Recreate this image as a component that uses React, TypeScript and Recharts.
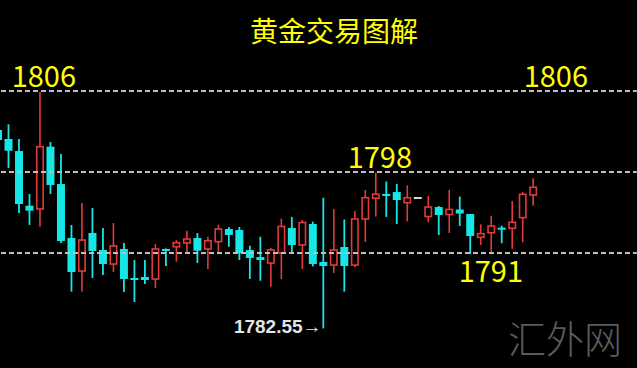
import { ComposedChart, Bar, XAxis, YAxis, ReferenceLine, ReferenceDot } from "recharts";

// candles, left to right (prices)
const highs = [1802.54, 1802.71, 1801.26, 1795.83, 1805.9, 1800.96, 1799.78, 1792.77, 1794.94, 1794.44, 1792.47, 1792.96, 1790.99, 1789.31, 1789.31, 1790.89, 1790.45, 1791.28, 1792.2, 1791.98, 1791.61, 1792.8, 1792.57, 1792.57, 1790.72, 1791.61, 1790.49, 1793.41, 1793.56, 1793.26, 1793.09, 1795.46, 1794.35, 1793.31, 1794.15, 1796.22, 1797.95, 1797.06, 1796.81, 1796.67, 1795.45, 1795.63, 1794.64, 1796.22, 1795.58, 1793.85, 1792.83, 1793.68, 1792.7, 1795.14, 1796.05, 1797.38];
const opens = [1802.15, 1801.26, 1800.07, 1794.67, 1794.35, 1800.5, 1796.81, 1791.48, 1788.22, 1791.98, 1790.3, 1788.91, 1790.4, 1787.53, 1787.63, 1787.43, 1790.4, 1790.62, 1790.99, 1791.48, 1790.4, 1791.12, 1792.37, 1792.27, 1790.3, 1789.6, 1789.01, 1790.0, 1792.47, 1790.79, 1792.86, 1789.11, 1788.81, 1790.59, 1788.81, 1793.36, 1795.41, 1795.83, 1796.02, 1794.97, 1795.43, 1793.6, 1794.54, 1793.8, 1794.3, 1793.85, 1791.55, 1792.0, 1792.5, 1792.44, 1793.49, 1795.73];
const closes = [1801.16, 1800.1, 1794.84, 1794.18, 1800.5, 1796.72, 1791.19, 1788.12, 1791.28, 1790.2, 1788.91, 1790.69, 1787.43, 1787.33, 1787.33, 1790.4, 1790.2, 1791.02, 1791.38, 1790.23, 1791.21, 1792.37, 1791.78, 1790.0, 1789.51, 1789.31, 1790.3, 1792.62, 1790.79, 1793.01, 1788.91, 1788.72, 1790.3, 1788.72, 1793.36, 1795.46, 1795.81, 1795.68, 1795.23, 1795.46, 1795.43, 1794.54, 1793.75, 1794.3, 1793.9, 1791.68, 1791.91, 1792.67, 1792.34, 1793.03, 1795.8, 1796.49];
const lows = [1800.57, 1798.4, 1793.95, 1792.77, 1792.6, 1795.83, 1790.99, 1786.18, 1786.18, 1787.53, 1787.83, 1788.12, 1786.15, 1785.16, 1786.94, 1786.54, 1788.72, 1789.14, 1790.07, 1789.01, 1788.42, 1789.9, 1790.62, 1789.31, 1787.43, 1787.26, 1786.67, 1787.43, 1790.05, 1788.42, 1788.67, 1782.55, 1788.02, 1786.18, 1788.6, 1791.09, 1793.59, 1793.56, 1792.86, 1793.11, 1795.41, 1793.04, 1791.78, 1791.98, 1792.67, 1789.9, 1790.79, 1789.87, 1790.96, 1790.4, 1791.06, 1794.67];

// marked levels: drawn value and the label written next to it
const levelValues = [1806, 1798, 1790];
const levelLabels = ["1806", "1798", "1791"];
const lowIndex = 31;
const lowLabel = "1782.55";

const RED = "#e23a3a";
const CYAN = "#16e6e6";
const FLAT = "#d8d8d8";
const YELLOW = "#ffff00";
const DASH = "#bdbdbd";
const FONT = "'Noto Sans CJK SC', 'Noto Sans', sans-serif";
const SHIFT = 6.7;

const data = highs.map((h, i) => ({
  i,
  range: [lows[i], h],
  open: opens[i],
  close: closes[i],
  high: h,
  low: lows[i],
}));

function Candle(props: any) {
  const { x, y, width, height, payload } = props;
  const { open, close, high, low } = payload;
  const top = height >= 0 ? y : y + height;
  const h = Math.abs(height);
  const k = high > low ? h / (high - low) : 0;
  const py = (v: number) => top + (high - v) * k;
  const cx = x + width / 2;
  if (open === close) {
    return <line x1={x} x2={x + width} y1={py(open)} y2={py(open)} stroke={FLAT} strokeWidth={2} />;
  }
  const up = close > open;
  const bTop = py(Math.max(open, close));
  const bBot = py(Math.min(open, close));
  if (up) {
    return (
      <g>
        <line x1={cx} x2={cx} y1={py(high)} y2={bTop} stroke={RED} strokeWidth={1.6} />
        <line x1={cx} x2={cx} y1={bBot} y2={py(low)} stroke={RED} strokeWidth={1.6} />
        <rect x={x + 0.8} y={bTop} width={width - 1.6} height={Math.max(bBot - bTop, 1.5)} fill="#000" stroke={RED} strokeWidth={1.6} />
      </g>
    );
  }
  return (
    <g>
      <line x1={cx} x2={cx} y1={py(high)} y2={py(low)} stroke={CYAN} strokeWidth={1.8} />
      <rect x={x} y={bTop} width={width} height={Math.max(bBot - bTop, 2)} fill={CYAN} />
    </g>
  );
}

const levelText = (txt: string, x: number, y: number) => (
  <text x={x + SHIFT} y={y} fill={YELLOW} fontSize={29} fontFamily={FONT}>
    {txt}
  </text>
);

export default function App() {
  return (
    <div style={{ position: "relative", width: 637, height: 368, overflow: "hidden", background: "#000" }}>
      <style>{"body{margin:0;background:#000}"}</style>
      <div style={{ position: "absolute", left: -SHIFT, top: 0 }}>
        <ComposedChart width={637 + SHIFT} height={368} data={data} margin={{ top: 0, right: 0, bottom: 0, left: 0 }}>
          <XAxis dataKey="i" type="category" hide padding={{ left: 0, right: 98 }} />
          <YAxis hide domain={[1778.642, 1814.988]} allowDataOverflow />
          <ReferenceLine
            y={levelValues[0]}
            stroke={DASH}
            strokeWidth={1.8}
            strokeDasharray="5 3"
            label={(p: any) => (
              <g>
                {levelText(levelLabels[0], 12, p.viewBox.y - 4)}
                {levelText(levelLabels[0], 524, p.viewBox.y - 4)}
              </g>
            )}
          />
          <ReferenceLine
            y={levelValues[1]}
            stroke={DASH}
            strokeWidth={1.8}
            strokeDasharray="5 3"
            label={(p: any) => levelText(levelLabels[1], 348, p.viewBox.y - 4)}
          />
          <ReferenceLine
            y={levelValues[2]}
            stroke={DASH}
            strokeWidth={1.8}
            strokeDasharray="5 3"
            label={(p: any) => levelText(levelLabels[2], 459, p.viewBox.y + 29)}
          />
          <Bar dataKey="range" barSize={8} isAnimationActive={false} shape={(p: any) => <Candle {...p} />} />
          <ReferenceDot
            x={lowIndex}
            y={lows[lowIndex]}
            r={0}
            shape={(p: any) => (
              <text x={p.cx - 2} y={p.cy + 5} textAnchor="end" fill="#e4e4e4" fontSize={19} fontWeight="bold" fontFamily="'Liberation Sans', Arial, sans-serif">
                {lowLabel + "→"}
              </text>
            )}
          />
        </ComposedChart>
      </div>
      <div style={{ position: "absolute", left: 0, width: 668, top: 12, textAlign: "center", color: YELLOW, fontSize: 28, fontFamily: FONT, lineHeight: "36px" }}>
        黄金交易图解
      </div>
      <div style={{ position: "absolute", left: 508, top: 314, color: "#5c5c5c", fontSize: 38, fontFamily: FONT, fontWeight: 300, lineHeight: "46px" }}>
        汇外网
      </div>
    </div>
  );
}
